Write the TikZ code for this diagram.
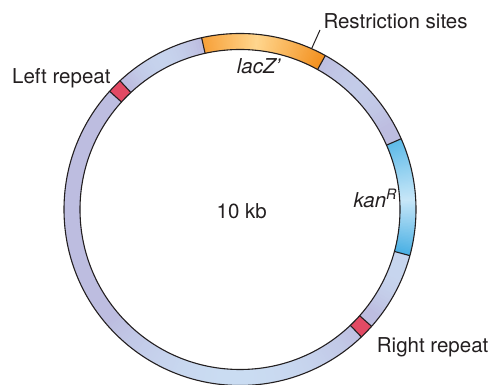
\documentclass[tikz,border=0pt]{standalone}
\usepackage{fontspec}
\setmainfont{TeX Gyre Heros}
\usetikzlibrary{calc}
\begin{document}
\begin{tikzpicture}[x=1pt,y=1pt]
\definecolor{lav}{RGB}{189,189,224}
\definecolor{lblue}{RGB}{202,220,242}
\definecolor{ink}{RGB}{35,31,32}
\definecolor{orL}{RGB}{247,160,56}
\definecolor{orM}{RGB}{255,214,142}
\definecolor{orR}{RGB}{243,145,32}
\definecolor{knT}{RGB}{92,186,232}
\definecolor{knM}{RGB}{200,231,248}
\definecolor{knB}{RGB}{74,176,228}
\definecolor{rep}{RGB}{226,74,100}
\tikzset{
  ringline/.style={draw=ink, line width=1.1pt},
  lbl/.style={inner sep=0pt, text=ink, font=\fontsize{20.5}{24}\selectfont},
  pointer/.style={draw=ink, line width=1pt}
}
\useasboundingbox (0,0) rectangle (491,385);
\coordinate (C) at (240,175.5);
\def\Ro{176}
\def\Ri{160}
% base ring with soft lavender / light blue variation
\foreach \a in {0,1,...,359}{
  \pgfmathsetmacro\tA{max(0,1-((\a-268)/48)*((\a-268)/48))}
  \pgfmathsetmacro\tB{0.8*max(0,1-((\a-340)/18)*((\a-340)/18))}
  \pgfmathsetmacro\tBB{0.8*max(0,1-((\a+20)/18)*((\a+20)/18))}
  \pgfmathsetmacro\tC{0.7*max(0,1-((\a-117)/14)*((\a-117)/14))}
  \pgfmathsetmacro\tD{0.45*max(0,1-((\a-45)/16)*((\a-45)/16))}
  \pgfmathsetmacro\t{100*max(\tA,\tB,\tBB,\tC,\tD)}
  \pgfmathsetmacro\b{\a+1.6}
  \fill[lblue!\t!lav, shift={(C)}] (\a:\Ro) arc[start angle=\a, end angle=\b, radius=\Ro] -- (\b:\Ri) arc[start angle=\b, end angle=\a, radius=\Ri] -- cycle;
}
% lacZ' segment (gradient by slices)
\foreach \a in {61,61.5,...,102}{
  \pgfmathsetmacro\b{min(\a+0.9,102.6)}
  \pgfmathsetmacro\t{\a<84 ? 100*(\a-61)/23 : 100*(102.6-\a)/18.6}
  \ifdim \a pt<84pt
    \fill[orM!\t!orR, shift={(C)}] (\a:\Ro) arc[start angle=\a, end angle=\b, radius=\Ro] -- (\b:\Ri) arc[start angle=\b, end angle=\a, radius=\Ri] -- cycle;
  \else
    \fill[orM!\t!orL, shift={(C)}] (\a:\Ro) arc[start angle=\a, end angle=\b, radius=\Ro] -- (\b:\Ri) arc[start angle=\b, end angle=\a, radius=\Ri] -- cycle;
  \fi
}
% kanR segment (gradient by slices)
\foreach \a in {-15.2,-14.7,...,23.3}{
  \pgfmathsetmacro\b{min(\a+0.9,23.7)}
  \ifdim \a pt<3pt
    \pgfmathsetmacro\t{100*(\a+15.2)/18.2}
    \fill[knM!\t!knB, shift={(C)}] (\a:\Ro) arc[start angle=\a, end angle=\b, radius=\Ro] -- (\b:\Ri) arc[start angle=\b, end angle=\a, radius=\Ri] -- cycle;
  \else
    \pgfmathsetmacro\t{100*(23.7-\a)/20.7}
    \fill[knM!\t!knT, shift={(C)}] (\a:\Ro) arc[start angle=\a, end angle=\b, radius=\Ro] -- (\b:\Ri) arc[start angle=\b, end angle=\a, radius=\Ri] -- cycle;
  \fi
}
% repeats
\fill[rep, shift={(C)}] (133:\Ro) arc[start angle=133, end angle=137.8, radius=\Ro] -- (137.8:\Ri) arc[start angle=137.8, end angle=133, radius=\Ri] -- cycle;
\fill[rep, shift={(C)}] (-46.4:\Ro) arc[start angle=-46.4, end angle=-41.6, radius=\Ro] -- (-41.6:\Ri) arc[start angle=-41.6, end angle=-46.4, radius=\Ri] -- cycle;
% outlines
\draw[ringline] (C) circle[radius=\Ro];
\draw[ringline] (C) circle[radius=\Ri];
\foreach \a in {61,102.6,133,137.8,-46.4,-41.6,-15.2,23.7}{
  \draw[ringline, shift={(C)}] (\a:\Ri) -- (\a:\Ro);
}
% labels
\node[lbl, anchor=base west] (rs) at (323.3,356.7) {Restriction sites};
\node[lbl, anchor=base west] (lr) at (12,301.7) {Left repeat};
\node[lbl, anchor=base west] (rr) at (376.7,32.3) {Right repeat};
\node[lbl, anchor=base] (kb) at (241.7,166.7) {10 kb};
\node[lbl, anchor=base west] (lac) at (236.7,311.7) {\itshape lacZ’};
\node[lbl, anchor=base west] (kan) at (353.3,177.7) {\itshape kan\textsuperscript{R}};
% pointer for restriction sites
\coordinate (rsA) at ($(C)+(66:\Ro)$);
\coordinate (rsB) at (320,355);
\draw[pointer] (rsA) -- (rsB);
\end{tikzpicture}
\end{document}
